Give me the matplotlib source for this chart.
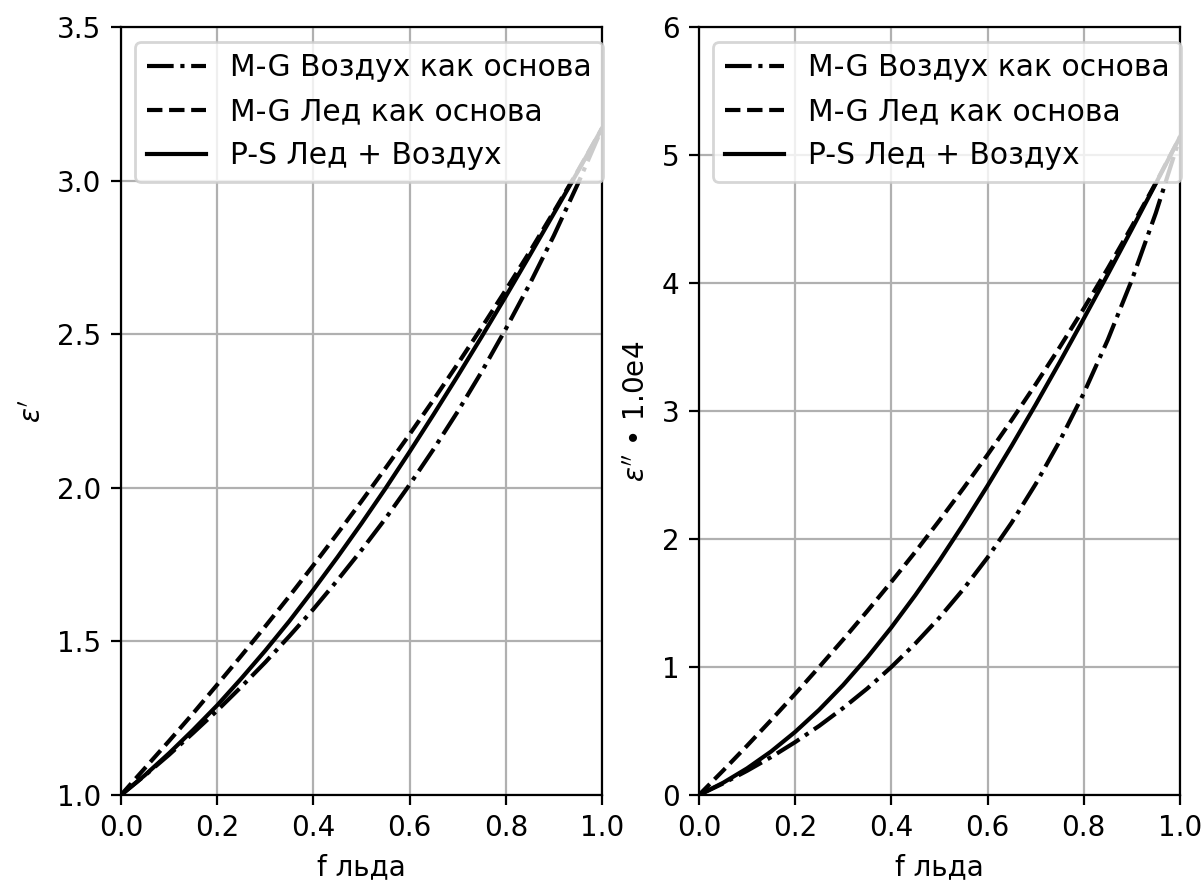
import matplotlib
matplotlib.use("Agg")
import matplotlib.pyplot as plt

# Ice volume fraction
f_ice = [0.00, 0.05, 0.10, 0.15, 0.20, 0.25, 0.30, 0.35, 0.40, 0.45, 0.50,
         0.55, 0.60, 0.65, 0.70, 0.75, 0.80, 0.85, 0.90, 0.95, 1.00]

# Real part eps'
re_mg_air = [1.000, 1.064, 1.131, 1.202, 1.275, 1.352, 1.432, 1.517, 1.605, 1.699, 1.797,
             1.900, 2.010, 2.126, 2.248, 2.378, 2.517, 2.664, 2.821, 2.990, 3.170]
re_mg_ice = [1.000, 1.088, 1.176, 1.266, 1.359, 1.453, 1.549, 1.647, 1.748, 1.851, 1.956,
             2.064, 2.174, 2.287, 2.403, 2.522, 2.644, 2.769, 2.899, 3.032, 3.170]
re_ps = [1.000, 1.065, 1.136, 1.212, 1.292, 1.379, 1.470, 1.566, 1.668, 1.774, 1.884,
         1.998, 2.117, 2.239, 2.364, 2.492, 2.623, 2.757, 2.893, 3.030, 3.170]

# Imaginary part eps'' * 1e4
im_mg_air = [0.000, 0.090, 0.189, 0.296, 0.413, 0.540, 0.680, 0.832, 1.000, 1.184, 1.386,
             1.609, 1.855, 2.127, 2.429, 2.765, 3.138, 3.556, 4.023, 4.548, 5.140]
im_mg_ice = [0.000, 0.190, 0.385, 0.585, 0.790, 1.000, 1.215, 1.437, 1.665, 1.900, 2.145,
             2.397, 2.658, 2.928, 3.208, 3.498, 3.800, 4.114, 4.442, 4.783, 5.140]
im_ps = [0.000, 0.095, 0.208, 0.340, 0.493, 0.666, 0.860, 1.075, 1.309, 1.562, 1.831,
         2.117, 2.416, 2.727, 3.049, 3.381, 3.721, 4.067, 4.420, 4.778, 5.140]

labels = ["M-G Воздух как основа", "M-G Лед как основа", "P-S Лед + Воздух"]
styles = ["-.", "--", "-"]

fig, (ax1, ax2) = plt.subplots(1, 2, figsize=(6.02, 4.425), dpi=200)
fig.subplots_adjust(left=0.1005, right=0.980, bottom=0.1017, top=0.9695, wspace=0.2017)

for ys, ls, lab in zip([re_mg_air, re_mg_ice, re_ps], styles, labels):
    ax1.plot(f_ice, ys, ls, color="black", label=lab)
ax1.set_xlim(0, 1)
ax1.set_ylim(1.0, 3.5)
ax1.grid(True)
ax1.set_xlabel("f льда")
ax1.set_ylabel(r"$\varepsilon'$")
ax1.legend(loc="upper right", fontsize=10.7, bbox_to_anchor=(1.003, 0.981),
           borderaxespad=0)

for ys, ls, lab in zip([im_mg_air, im_mg_ice, im_ps], styles, labels):
    ax2.plot(f_ice, ys, ls, color="black", label=lab)
ax2.set_xlim(0, 1)
ax2.set_ylim(0, 6)
ax2.grid(True)
ax2.set_xlabel("f льда")
ax2.set_ylabel(r"$\varepsilon''$ • 1.0e4")
ax2.legend(loc="upper right", fontsize=10.7, bbox_to_anchor=(1.003, 0.981),
           borderaxespad=0)

fig.savefig("out.png", dpi=200)
